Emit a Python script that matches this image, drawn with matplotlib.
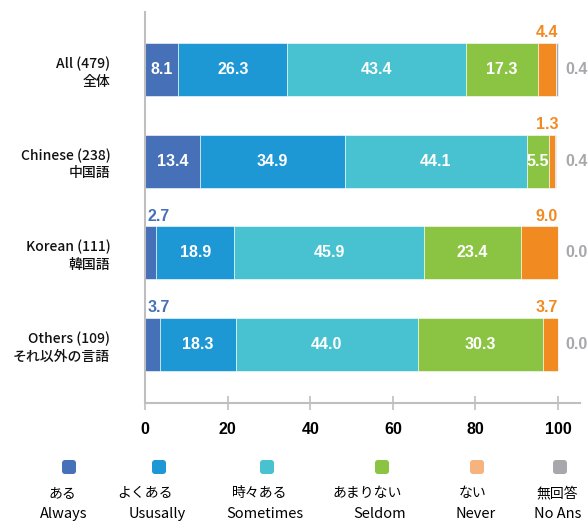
import matplotlib
matplotlib.use('Agg')
import matplotlib.pyplot as plt
from matplotlib.patches import FancyBboxPatch
import numpy as np

# Survey groups (top to bottom)
groups = ['All (479)\n全体', 'Chinese (238)\n中国語', 'Korean (111)\n韓国語',
          'Others (109)\nそれ以外の言語']

# Percent per answer
always = [8.1, 13.4, 2.7, 3.7]
usually = [26.3, 34.9, 18.9, 18.3]
sometimes = [43.4, 44.1, 45.9, 44.0]
seldom = [17.3, 5.5, 23.4, 30.3]
never = [4.4, 1.3, 9.0, 3.7]
no_ans = [0.4, 0.4, 0.0, 0.0]

series = [always, usually, sometimes, seldom, never, no_ans]
colors = ['#4670B7', '#1E97D5', '#48C2D0', '#8BC442', '#F28A22', '#A6A8AB']
legend_colors = ['#4670B7', '#1E97D5', '#48C2D0', '#8BC442', '#F7B37D', '#A6A8AB']
legend_jp = ['ある', 'よくある', '時々ある', 'あまりない', 'ない', '無回答']
legend_en = ['Always', 'Ususally', 'Sometimes', 'Seldom', 'Never', 'No Ans']
ticks = [0, 20, 40, 60, 80, 100]

cjk = ['Noto Sans CJK JP', 'DejaVu Sans']
num = 'Liberation Sans'

fig = plt.figure(figsize=(5.88, 5.23), dpi=100)
ax = fig.add_axes([0.2466, 0.2294, 0.7398, 0.7476])

y = np.arange(len(groups))
left = np.zeros(len(groups))
for vals, c in zip(series, colors):
    ax.barh(y, vals, left=left, height=0.58, color=c, edgecolor='white', linewidth=0.4)
    left += np.array(vals)

# Value labels
fs = 11.5
for i in range(len(groups)):
    starts = np.cumsum([0] + [s[i] for s in series])
    for k, vals in enumerate(series):
        v = vals[i]
        mid = starts[k] + v / 2
        if k == 0 and v < 5:
            ax.text(0.6, i - 0.32, f'{v:.1f}', color=colors[0], fontsize=fs,
                    fontweight='bold', family=num, ha='left', va='bottom')
        elif k == 4:
            ax.text(100, i - 0.32, f'{v:.1f}', color=colors[4], fontsize=fs,
                    fontweight='bold', family=num, ha='right', va='bottom')
        elif k == 5:
            ax.text(101.7, i, f'{v:.1f}', color=colors[5], fontsize=fs,
                    fontweight='bold', family=num, ha='left', va='center', clip_on=False)
        else:
            ax.text(mid, i, f'{v:.1f}', color='white', fontsize=fs,
                    fontweight='bold', family=num, ha='center', va='center')

ax.set_xlim(0, 105.3)
ax.set_ylim(3.64, -0.63)
ax.set_yticks(y)
ax.set_yticklabels(groups, family=cjk, fontsize=10, fontweight='medium', linespacing=1.3,
                   ha='right', multialignment='right', color='#111111')
ax.tick_params(axis='y', length=0, pad=25)
ax.set_xticks(ticks)
ax.set_xticklabels([str(t) for t in ticks], family=num, fontweight='bold', fontsize=11.5)
ax.tick_params(axis='x', direction='inout', length=10, width=1.2, color='#BFBFBF', pad=9)

for s in ['top', 'right']:
    ax.spines[s].set_visible(False)
for s in ['left', 'bottom']:
    ax.spines[s].set_color('#BFBFBF')
    ax.spines[s].set_linewidth(1.5)

# Legend built by hand
marker_x = [69, 159, 267, 382, 477, 560]
jp_x = [62, 145, 260, 367, 473, 557]
en_x = [64, 157, 265, 380, 476, 558]
for k in range(6):
    sz = 0.14
    box = FancyBboxPatch((marker_x[k] / 100 - sz / 2, 0.56 - sz / 2), sz, sz,
                         boxstyle='round,pad=0,rounding_size=0.03',
                         transform=fig.dpi_scale_trans, color=legend_colors[k], lw=0)
    fig.patches.append(box)
    fig.text(jp_x[k] / 588, 30 / 523, legend_jp[k], family=cjk, fontsize=10,
             ha='center', va='center')
    fig.text(en_x[k] / 588, 9 / 523, legend_en[k], family=cjk, fontsize=10.5,
             ha='center', va='center')

fig.savefig('out.png', dpi=100)
